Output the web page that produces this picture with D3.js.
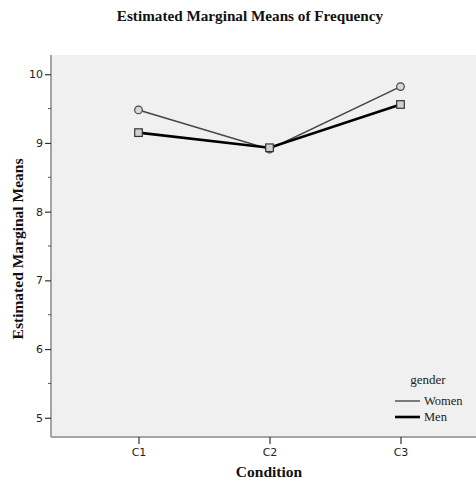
<!DOCTYPE html>
<html>
<head>
<meta charset="utf-8">
<script src="https://cdn.jsdelivr.net/npm/d3@7"></script>
<style>
  html, body { margin: 0; padding: 0; background: #fff; }
  svg { display: block; }
</style>
</head>
<body>
<svg id="chart" width="476" height="481"></svg>
<script>
// Conditions along the x axis
const conditions = ["C1", "C2", "C3"];
// Estimated marginal means per gender
const women = [9.48, 8.91, 9.82];
const men = [9.15, 8.93, 9.56];
// Y axis ticks
const majorTicks = [5, 6, 7, 8, 9, 10];
const minorTicks = [5.5, 6.5, 7.5, 8.5, 9.5];

const svg = d3.select("#chart");
const plotLeft = 51, plotRight = 476, plotTop = 55, plotBottom = 437;

// categories sit at fixed fractions of the plot width
const x = d3.scalePoint().domain(conditions).range([138.5, 400.5]);
const y = d3.scaleLinear().domain([4.72, 10.28]).range([plotBottom, plotTop]);

// plot background
svg.append("rect")
  .attr("x", plotLeft).attr("y", plotTop)
  .attr("width", plotRight - plotLeft).attr("height", plotBottom - plotTop)
  .attr("fill", "#f0f0f0");

// axes
const axisColor = "#8a8a8a";
svg.append("line").attr("x1", plotLeft).attr("x2", plotLeft).attr("y1", plotTop).attr("y2", plotBottom)
  .attr("stroke", axisColor).attr("stroke-width", 1.5);
svg.append("line").attr("x1", plotLeft).attr("x2", plotRight).attr("y1", plotBottom).attr("y2", plotBottom)
  .attr("stroke", axisColor).attr("stroke-width", 1.5);

const yAxis = d3.axisLeft(y).tickValues(majorTicks).tickSize(6).tickFormat(d3.format("d"));
const gy = svg.append("g").attr("transform", `translate(${plotLeft},0)`).call(yAxis);
gy.select(".domain").remove();
gy.selectAll(".tick line").attr("stroke", "#333").attr("stroke-width", 1.2);
gy.selectAll(".tick text").attr("font-family", "DejaVu Sans, sans-serif").attr("font-size", 11)
  .attr("fill", "#222").attr("dx", "1");

svg.append("g").selectAll("line").data(minorTicks).join("line")
  .attr("x1", plotLeft - 3).attr("x2", plotLeft).attr("y1", d => y(d)).attr("y2", d => y(d))
  .attr("stroke", "#555").attr("stroke-width", 1);

const xAxis = d3.axisBottom(x).tickSize(7).tickPadding(4);
const gx = svg.append("g").attr("transform", `translate(0,${plotBottom})`).call(xAxis);
gx.select(".domain").remove();
gx.selectAll(".tick line").attr("stroke", "#333").attr("stroke-width", 1.2);
gx.selectAll(".tick text").attr("font-family", "DejaVu Sans, sans-serif").attr("font-size", 11)
  .attr("fill", "#222");

// series lines
const line = d3.line().x((d, i) => x(conditions[i])).y(d => y(d));
svg.append("path").datum(women).attr("d", line)
  .attr("fill", "none").attr("stroke", "#444").attr("stroke-width", 1.5);
svg.append("path").datum(men).attr("d", line)
  .attr("fill", "none").attr("stroke", "#000").attr("stroke-width", 2.6);

// markers
svg.append("g").selectAll("circle").data(women).join("circle")
  .attr("cx", (d, i) => x(conditions[i])).attr("cy", d => y(d)).attr("r", 3.8)
  .attr("fill", "#d8d8d8").attr("stroke", "#444").attr("stroke-width", 1.2);
svg.append("g").selectAll("rect").data(men).join("rect")
  .attr("x", (d, i) => x(conditions[i]) - 3.8).attr("y", d => y(d) - 3.8)
  .attr("width", 7.6).attr("height", 7.6)
  .attr("fill", "#d0d0d0").attr("stroke", "#333").attr("stroke-width", 1.2);

// titles
const serif = "Liberation Serif, Times New Roman, serif";
svg.append("text").attr("x", 250).attr("y", 21).attr("text-anchor", "middle")
  .attr("font-family", serif).attr("font-weight", "bold")
  .attr("font-size", 15.2).attr("fill", "#111").text("Estimated Marginal Means of Frequency");
svg.append("text").attr("x", 269).attr("y", 477).attr("text-anchor", "middle")
  .attr("font-family", serif).attr("font-weight", "bold")
  .attr("font-size", 15.5).attr("fill", "#111").text("Condition");
svg.append("text").attr("transform", "translate(23,249) rotate(-90)").attr("text-anchor", "middle")
  .attr("font-family", serif).attr("font-weight", "bold")
  .attr("font-size", 15.5).attr("fill", "#111").text("Estimated Marginal Means");

// legend
const legend = svg.append("g");
legend.append("text").attr("x", 428).attr("y", 384).attr("text-anchor", "middle")
  .attr("font-family", serif).attr("font-size", 13)
  .attr("fill", "#222").text("gender");
const items = [
  { name: "Women", color: "#555", width: 1.5 },
  { name: "Men", color: "#000", width: 2.6 }
];
items.forEach((it, i) => {
  const yy = 401 + i * 16;
  legend.append("line").attr("x1", 395).attr("x2", 420).attr("y1", yy).attr("y2", yy)
    .attr("stroke", it.color).attr("stroke-width", it.width);
  legend.append("text").attr("x", 424).attr("y", yy + 4)
    .attr("font-family", serif).attr("font-size", 12.5)
    .attr("fill", "#222").text(it.name);
});
</script>
</body>
</html>
